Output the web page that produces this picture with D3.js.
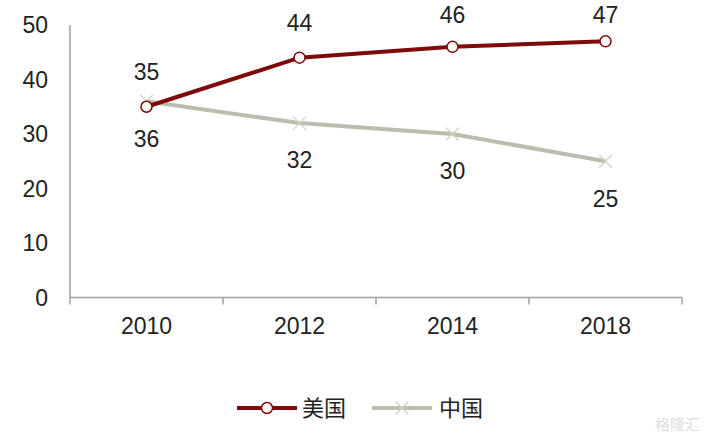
<!DOCTYPE html>
<html>
<head>
<meta charset="utf-8">
<script src="https://cdn.jsdelivr.net/npm/d3@7"></script>
<style>
  body { margin: 0; background: #fff; }
  text { font-family: "Liberation Sans", Arial, sans-serif; fill: #222; }
</style>
</head>
<body>
<div id="chart"></div>
<script>
var years = ["2010", "2012", "2014", "2018"];
var usValues = [35, 44, 46, 47];
var cnValues = [36, 32, 30, 25];
var yTicks = [0, 10, 20, 30, 40, 50];
var seriesNames = ["美国", "中国"];

var width = 706, height = 445;
var margin = { left: 70, right: 24, top: 25, bottom: 148 };
var fs = 23;

var svg = d3.select("#chart").append("svg")
    .attr("width", width)
    .attr("height", height);

var x = d3.scaleBand()
    .domain(years)
    .range([margin.left, width - margin.right]);

var y = d3.scaleLinear()
    .domain([0, 50])
    .range([height - margin.bottom + 0.5, margin.top]);

// y axis line
svg.append("line")
    .attr("x1", margin.left).attr("x2", margin.left)
    .attr("y1", y(50)).attr("y2", y(0) + 7)
    .attr("stroke", "#a0a0a0").attr("stroke-width", 1.5);

svg.selectAll(".ytick")
    .data(yTicks)
    .enter()
    .append("text")
    .attr("class", "ytick")
    .attr("x", 48)
    .attr("y", function (d) { return y(d); })
    .attr("dy", "0.36em")
    .attr("text-anchor", "end")
    .attr("font-size", fs)
    .text(function (d) { return d; });

// x axis
svg.append("line")
    .attr("x1", margin.left).attr("x2", width - margin.right)
    .attr("y1", y(0)).attr("y2", y(0))
    .attr("stroke", "#a0a0a0").attr("stroke-width", 1.5);

svg.selectAll(".xtickmark")
    .data(years)
    .enter()
    .append("line")
    .attr("x1", function (d) { return x(d) + x.bandwidth(); })
    .attr("x2", function (d) { return x(d) + x.bandwidth(); })
    .attr("y1", y(0)).attr("y2", y(0) + 7)
    .attr("stroke", "#a0a0a0").attr("stroke-width", 1.5);

svg.selectAll(".xtick")
    .data(years)
    .enter()
    .append("text")
    .attr("x", function (d) { return x(d) + x.bandwidth() / 2; })
    .attr("y", y(0) + 28)
    .attr("dy", "0.36em")
    .attr("text-anchor", "middle")
    .attr("font-size", fs)
    .text(function (d) { return d; });

var cx = function (d, i) { return x(years[i]) + x.bandwidth() / 2; };
var line = d3.line()
    .x(function (d, i) { return cx(d, i); })
    .y(function (d) { return y(d); });

var usColor = "#7f0a0a", cnColor = "#bdbdaf", cnMark = "#d2d2c4";

function xMark(g, s, color) {
    g.append("path")
        .attr("d", "M" + (-s) + "," + (-s) + "L" + s + "," + s + "M" + (-s) + "," + s + "L" + s + "," + (-s))
        .attr("stroke", color).attr("stroke-width", 1.3).attr("fill", "none");
}

// 中国
svg.append("path")
    .datum(cnValues)
    .attr("d", line)
    .attr("fill", "none")
    .attr("stroke", cnColor)
    .attr("stroke-width", 4);

svg.selectAll(".cnmark")
    .data(cnValues)
    .enter()
    .append("g")
    .attr("transform", function (d, i) { return "translate(" + cx(d, i) + "," + y(d) + ")"; })
    .each(function () { xMark(d3.select(this), 6.5, cnMark); });

// 美国
svg.append("path")
    .datum(usValues)
    .attr("d", line)
    .attr("fill", "none")
    .attr("stroke", usColor)
    .attr("stroke-width", 4);

svg.selectAll(".usmark")
    .data(usValues)
    .enter()
    .append("circle")
    .attr("cx", cx)
    .attr("cy", function (d) { return y(d); })
    .attr("r", 5.5)
    .attr("fill", "#fff")
    .attr("stroke", usColor)
    .attr("stroke-width", 1.5);

// data labels (above for 美国, kept inside the top edge)
svg.selectAll(".uslabel")
    .data(usValues)
    .enter()
    .append("text")
    .attr("x", cx)
    .attr("y", function (d) { return Math.max(y(d) - 35, 15); })
    .attr("dy", "0.36em")
    .attr("text-anchor", "middle")
    .attr("font-size", fs)
    .text(function (d) { return d; });

svg.selectAll(".cnlabel")
    .data(cnValues)
    .enter()
    .append("text")
    .attr("x", cx)
    .attr("y", function (d) { return y(d) + 37; })
    .attr("dy", "0.36em")
    .attr("text-anchor", "middle")
    .attr("font-size", fs)
    .text(function (d) { return d; });

// legend
var legend = svg.append("g").attr("transform", "translate(237,408)");
var lg1 = legend.append("g");
lg1.append("line").attr("x1", 0).attr("x2", 60).attr("stroke", usColor).attr("stroke-width", 4);
lg1.append("circle").attr("cx", 30).attr("r", 5.5).attr("fill", "#fff").attr("stroke", usColor).attr("stroke-width", 1.5);
lg1.append("text").attr("x", 65).attr("dy", "0.36em").attr("font-size", 22)
    .style("font-family", "'Noto Sans CJK SC', sans-serif").text(seriesNames[0]);

var lg2 = legend.append("g").attr("transform", "translate(135,0)");
lg2.append("line").attr("x1", 0).attr("x2", 60).attr("stroke", cnColor).attr("stroke-width", 4);
xMark(lg2.append("g").attr("transform", "translate(30,0)"), 6.5, cnMark);
lg2.append("text").attr("x", 67).attr("dy", "0.36em").attr("font-size", 22)
    .style("font-family", "'Noto Sans CJK SC', sans-serif").text(seriesNames[1]);

// watermark
svg.append("text")
    .attr("x", 700).attr("y", 430)
    .attr("text-anchor", "end")
    .attr("font-size", 15)
    .style("fill", "#dedede")
    .style("font-family", "'Noto Sans CJK SC', sans-serif")
    .text("格隆汇");
</script>
</body>
</html>
